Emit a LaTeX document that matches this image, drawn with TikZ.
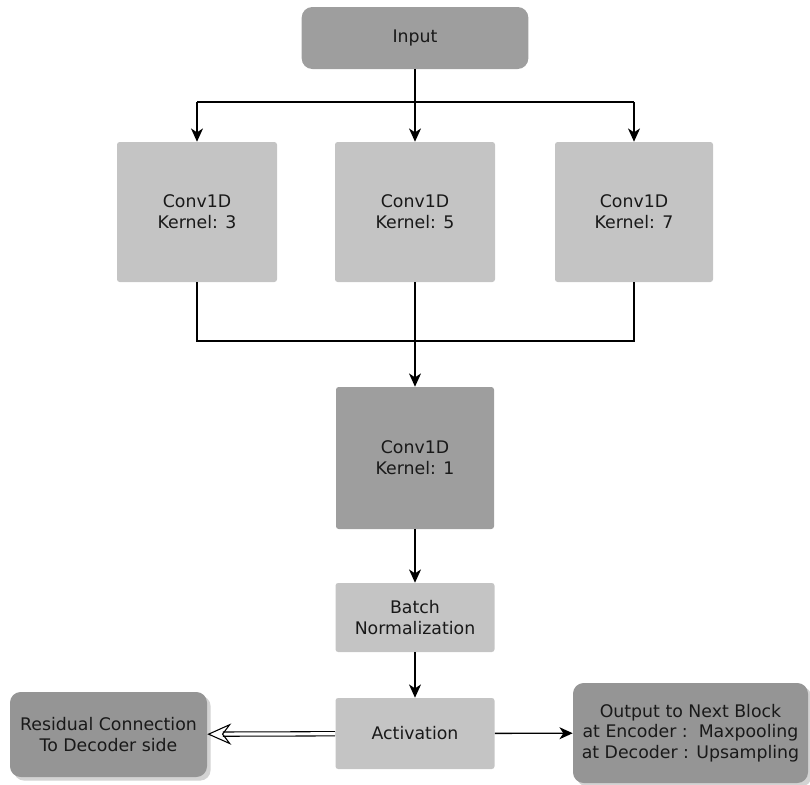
\documentclass[tikz,border=0pt]{standalone}
\usepackage{fontspec}
\setmainfont{DejaVu Sans}
\usetikzlibrary{arrows.meta,shadows}
\definecolor{boxlight}{HTML}{C4C4C4}
\definecolor{boxdark}{HTML}{9E9E9E}
\definecolor{boxshade}{HTML}{959595}
\tikzset{
  block/.style={fill=boxlight, rounded corners=2pt, inner sep=0pt, align=center,
    font=\fontsize{13}{15.5}\selectfont, text=black!90},
  roundblock/.style={block, fill=boxshade, rounded corners=8pt},
  wire/.style={line width=1pt},
  flow/.style={wire, -{Stealth[length=10pt,width=9pt,inset=3pt]}},
  resid/.style={double, double distance=2.4pt, line width=0.8pt,
    -{Stealth[open,length=18pt,width=16pt,inset=6pt]}},
}

\begin{document}
\begin{tikzpicture}[x=0.75pt, y=-0.75pt]
\useasboundingbox (0,0) rectangle (810,785);
\node[roundblock, fill=boxdark, minimum width=170pt, minimum height=46.5pt] (input) at (415,38) {Input};
\node[block, minimum width=120pt, minimum height=105pt] (k3) at (197,212) {Conv1D\\Kernel: 3};
\node[block, minimum width=120pt, minimum height=105pt] (k5) at (415,212) {Conv1D\\Kernel: 5};
\node[block, minimum width=118.5pt, minimum height=105pt] (k7) at (634,212) {Conv1D\\Kernel: 7};
\node[block, fill=boxdark, minimum width=118.5pt, minimum height=106.5pt] (k1) at (415,458) {Conv1D\\Kernel: 1};
\node[block, minimum width=119.25pt, minimum height=51.75pt] (bn) at (415,617.5) {Batch\\Normalization};
\node[block, minimum width=119.25pt, minimum height=53.25pt] (act) at (415,733.5) {Activation};
\node[roundblock, drop shadow={opacity=0.35}, minimum width=147.75pt, minimum height=63.75pt] (res) at (108.5,734.5) {Residual Connection\\To Decoder side};
\node[roundblock, drop shadow={opacity=0.35}, minimum width=176.25pt, minimum height=75pt] (out) at (690.5,733) {Output to Next Block\\at Encoder :\ \ Maxpooling\\at Decoder : Upsampling};

\coordinate (fork) at (415,102);
\coordinate (join) at (415,341);
\draw[flow] (input) -- (k5);
\draw[wire] (k3.north |- fork) -- (k7.north |- fork);
\draw[flow] (k3.north |- fork) -- (k3.north);
\draw[flow] (k7.north |- fork) -- (k7.north);
\draw[wire] (k3.south) |- (join) -| (k7.south);
\draw[flow] (k5) -- (k1);
\draw[flow] (k1) -- (bn);
\draw[flow] (bn) -- (act);
\draw[flow] (act) -- (out);
\draw[resid] (act) -- (res);
\end{tikzpicture}
\end{document}
